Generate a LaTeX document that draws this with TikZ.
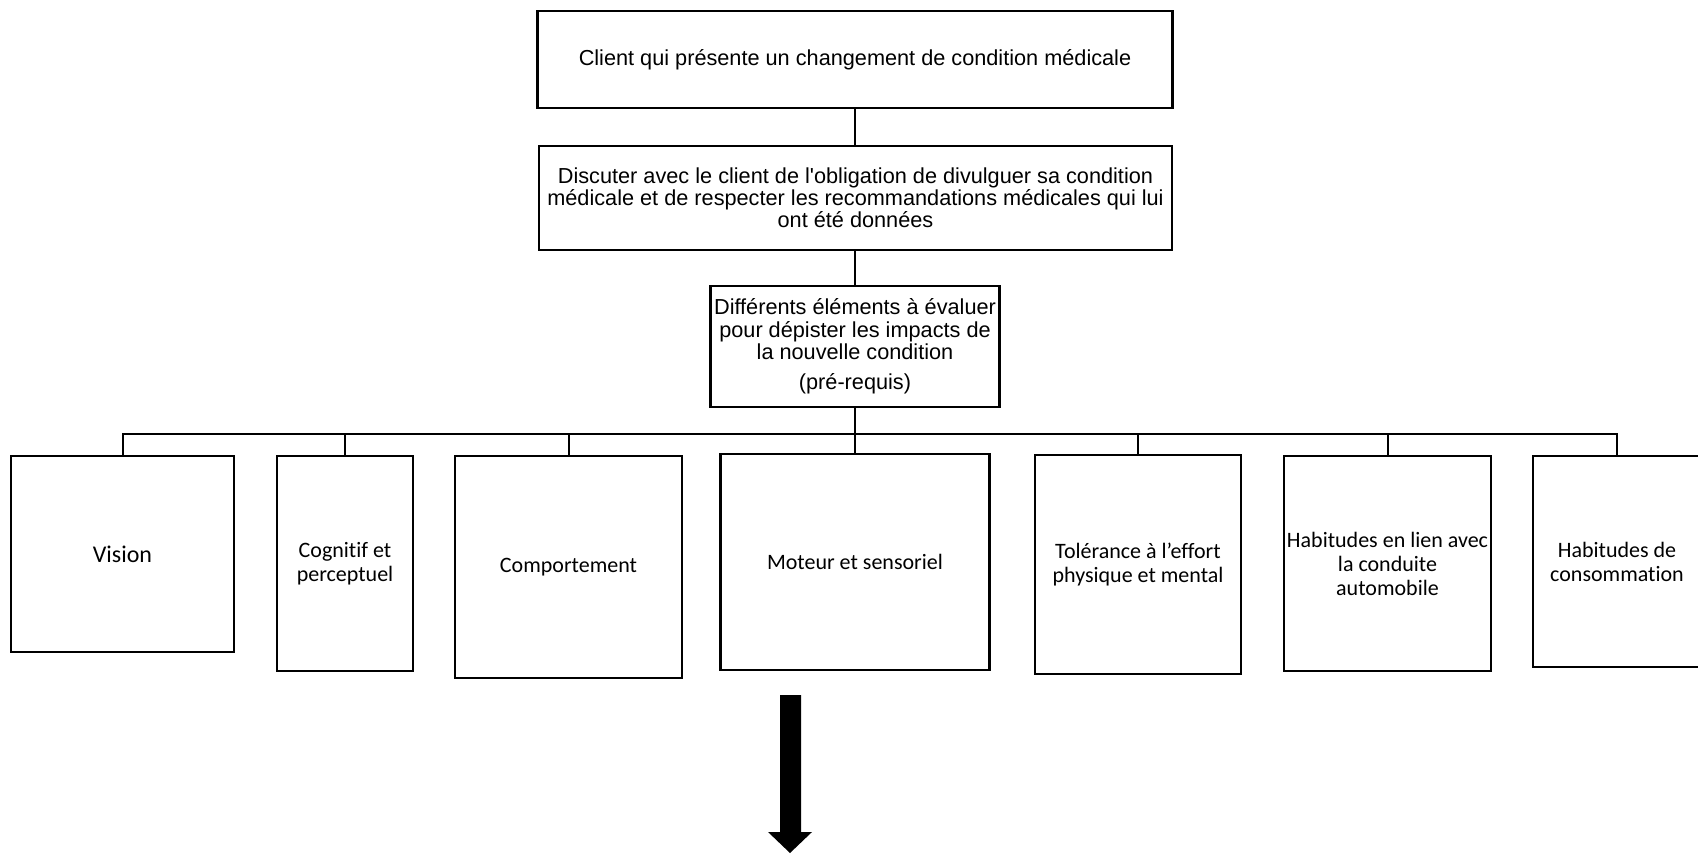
\documentclass[tikz,border=0pt]{standalone}
\usepackage{fontspec}
\setmainfont{Liberation Sans}
\newfontfamily\calibri[Ligatures=NoCommon]{Carlito}
\begin{document}
\begin{tikzpicture}[x=0.5pt,y=-0.5pt,
  box/.style={draw=black, line width=1.1pt, inner sep=0pt, align=center},
  topbox/.style={box, font=\fontsize{10.85}{11.1}\selectfont},
  leaf/.style={box, font=\calibri\fontsize{11}{12}\selectfont},
  link/.style={line width=1pt}]
\useasboundingbox (0,0) rectangle (1698,853);
\clip (0,0) rectangle (1698,853);

\node[topbox, minimum width=317.5pt, minimum height=48.5pt] (b1) at (855,59.5)
  {Client qui présente un changement de condition médicale};
\node[topbox, minimum width=316.5pt, minimum height=52pt] (b2) at (855.5,198)
  {Discuter avec le client de l\textquotesingle obligation de divulguer sa condition\\médicale et de respecter les recommandations médicales qui lui\\ont été données};
\node[topbox, minimum width=144.5pt, minimum height=60.5pt] (b3) at (855,346.5)
  {Différents éléments à évaluer\\pour dépister les impacts de\\la nouvelle condition\\[4pt](pré-requis)};

\node[leaf, font=\calibri\fontsize{12}{13}\selectfont, minimum width=111.5pt, minimum height=98pt] (vision) at (122.5,554) {Vision};
\node[leaf, minimum width=68pt, minimum height=107.5pt] (cogn) at (345,563.5) {Cognitif et\\perceptuel};
\node[leaf, minimum width=113.5pt, minimum height=111pt] (comp) at (568.5,567) {Comportement};
\node[leaf, minimum width=134.5pt, minimum height=108pt] (mot) at (855,562) {Moteur et sensoriel};
\node[leaf, minimum width=103pt, minimum height=109.5pt] (tol) at (1138,564.5) {Tolérance à l’effort\\physique et mental};
\node[leaf, minimum width=103.5pt, minimum height=107.5pt] (hab) at (1387.5,563.5) {Habitudes en lien avec\\la conduite\\automobile};
\node[leaf, minimum width=84pt, minimum height=105.5pt] (cons) at (1617,561.5) {Habitudes de\\consommation};

\coordinate (bus) at (b3.south |- 0,434);

\draw[link] (b1.south) -- (b1.south |- b2.north);
\draw[link] (b2.south -| b3.north) -- (b3.north);
\draw[link] (b3.south) -- (mot.north);
\foreach \c in {vision,cogn,comp,tol,hab,cons}
  \draw[link] (bus) -| (\c.north);

\fill[black] (780,695) -- (801,695) -- (801,832) -- (812,832) -- (790,853) -- (768,832) -- (780,832) -- cycle;
\end{tikzpicture}
\end{document}
